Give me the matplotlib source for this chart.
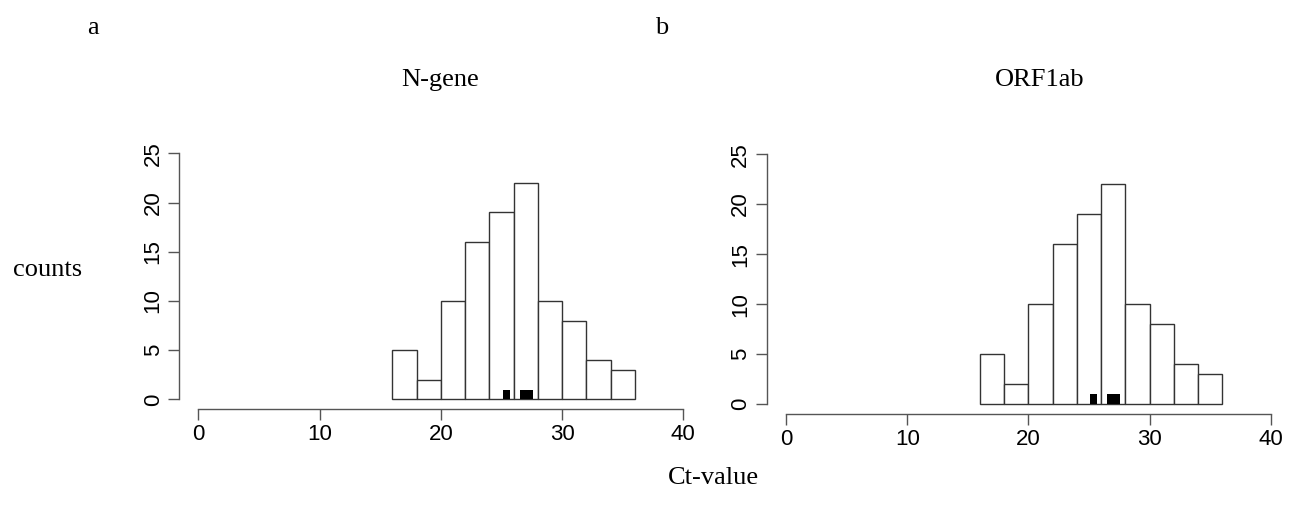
import matplotlib
matplotlib.use("Agg")
import matplotlib.pyplot as plt
import numpy as np

# histogram of Ct values (bin edges 16..36, width 2)
bin_edges = [16, 18, 20, 22, 24, 26, 28, 30, 32, 34, 36]
counts_n = [5, 2, 10, 16, 19, 22, 10, 8, 4, 3]
counts_orf = [5, 2, 10, 16, 19, 22, 10, 8, 4, 3]

# small black bars (second group)
black_x = [25.4, 27.05]
black_w = [0.6, 1.1]
black_h = [1, 1]

xticks = [0, 10, 20, 30, 40]
yticks = [0, 5, 10, 15, 20, 25]

AXCOL = "#555555"
serif = ["Liberation Serif", "DejaVu Serif"]
sans = ["Liberation Sans", "DejaVu Sans"]

fig = plt.figure(figsize=(12.9, 5.15), dpi=100)
ax1 = fig.add_axes([0.1387, 0.2054, 0.4060, 0.5159])
ax2 = fig.add_axes([0.5943, 0.1961, 0.4058, 0.5240])


def rhist(ax, counts):
    edges = np.array(bin_edges)
    ax.bar(edges[:-1], counts, width=np.diff(edges), align="edge",
           color="white", edgecolor="#333333", linewidth=1.0)
    ax.bar(black_x, black_h, width=black_w, color="black", edgecolor="none")
    ax.set_xlim(-1.6, 41.6)
    ax.set_ylim(-1, 26)
    for s in ["top", "right"]:
        ax.spines[s].set_visible(False)
    ax.spines["left"].set_bounds(0, 25)
    ax.spines["bottom"].set_bounds(0, 40)
    for s in ["left", "bottom"]:
        ax.spines[s].set_color(AXCOL)
        ax.spines[s].set_linewidth(1.0)
    ax.set_xticks(xticks)
    ax.set_yticks(yticks)
    ax.tick_params(direction="out", length=8, width=1.0, color=AXCOL, pad=3)
    for lab in ax.get_xticklabels():
        lab.set_fontfamily(sans)
        lab.set_fontsize(16)
    for lab in ax.get_yticklabels():
        lab.set_fontfamily(sans)
        lab.set_fontsize(16)
        lab.set_rotation(90)
        lab.set_va("center")
    ax.patch.set_visible(False)


rhist(ax1, counts_n)
rhist(ax2, counts_orf)

fig.text(93 / 1290, 1 - 28 / 515, "a", family=serif, fontsize=19, ha="center", va="center")
fig.text(662 / 1290, 1 - 28 / 515, "b", family=serif, fontsize=19, ha="center", va="center")
fig.text(440 / 1290, 1 - 80 / 515, "N-gene", family=serif, fontsize=19, ha="center", va="center")
fig.text(1040 / 1290, 1 - 80 / 515, "ORF1ab", family=serif, fontsize=19, ha="center", va="center")
fig.text(48 / 1290, 1 - 270 / 515, "counts", family=serif, fontsize=19, ha="center", va="center")
fig.text(713 / 1290, 1 - 478 / 515, "Ct-value", family=serif, fontsize=19, ha="center", va="center")

fig.savefig("out.png", dpi=100)
